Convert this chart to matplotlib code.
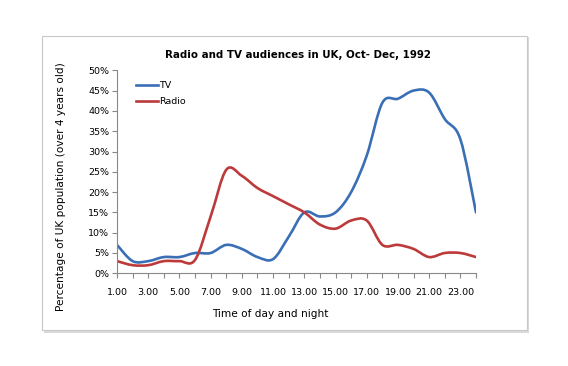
import numpy as np
import matplotlib
matplotlib.use("Agg")
import matplotlib.pyplot as plt
from matplotlib.path import Path
from matplotlib.patches import PathPatch, Rectangle
from matplotlib.lines import Line2D

# hours 1..24 and audience share (%)
hours = list(range(1, 25))
tv = [7, 3, 3, 4, 4, 5, 5, 7, 6, 4, 3.5, 9, 15, 14, 15, 20, 29, 42, 43, 45, 44.5, 38, 33, 15]
radio = [3, 2, 2, 3, 3, 3.3, 14, 25.5, 24, 21, 19, 17, 15, 12, 11, 13, 13, 7, 7, 6, 4, 5, 5, 4]
tick_labels = ["%d.00" % h for h in range(1, 25, 2)]


def smooth_path(xs, ys):
    # excel-like smoothed line: cubic bezier through every point
    pts = np.column_stack([xs, ys]).astype(float)
    verts = [pts[0]]
    codes = [Path.MOVETO]
    n = len(pts)
    for i in range(n - 1):
        p0 = pts[i - 1] if i > 0 else pts[i]
        p1 = pts[i]
        p2 = pts[i + 1]
        p3 = pts[i + 2] if i + 2 < n else pts[i + 1]
        c1 = p1 + (p2 - p0) / 6.0
        c2 = p2 - (p3 - p1) / 6.0
        verts += [c1, c2, p2]
        codes += [Path.CURVE4] * 3
    return Path(verts, codes)


fig = plt.figure(figsize=(5.68, 3.66), dpi=100)

# card border with a little shadow
shadow = Rectangle((44 / 568, 1 - 333 / 366), 485 / 568, 296 / 366, transform=fig.transFigure,
                   facecolor="#d9d9d9", edgecolor="none", zorder=-2)
card = Rectangle((42 / 568, 1 - 330 / 366), 485 / 568, 294 / 366, transform=fig.transFigure,
                 facecolor="white", edgecolor="#c8c8c8", linewidth=0.8, zorder=-1)
fig.patches.extend([shadow, card])

ax = fig.add_axes([117 / 568, 1 - 273.3 / 366, 359 / 568, 203 / 366])
ax.set_facecolor("none")

tv_col = "#3a6fb6"
radio_col = "#bd3a3a"
ax.add_patch(PathPatch(smooth_path(hours, tv), facecolor="none", edgecolor=tv_col, lw=1.9, capstyle="round"))
ax.add_patch(PathPatch(smooth_path(hours, radio), facecolor="none", edgecolor=radio_col, lw=1.9, capstyle="round"))

ax.set_xlim(1, 24)
ax.set_ylim(0, 50)
ax.set_xticks(hours)
ax.set_xticklabels([tick_labels[i // 2] if i % 2 == 0 else "" for i in range(24)], fontsize=6.8)
ax.set_yticks(range(0, 51, 5))
ax.set_yticklabels(["%d%%" % v for v in range(0, 51, 5)], fontsize=6.8)
ax.tick_params(direction="out", length=3.5, color="#888888", width=0.8, pad=2)
ax.tick_params(axis="x", pad=7)
for s in ["top", "right"]:
    ax.spines[s].set_visible(False)
for s in ["left", "bottom"]:
    ax.spines[s].set_color("#888888")
    ax.spines[s].set_linewidth(0.8)

handles = [Line2D([], [], color=tv_col, lw=1.9), Line2D([], [], color=radio_col, lw=1.9)]
ax.legend(handles, ["TV", "Radio"], loc="upper left", bbox_to_anchor=(0.03, 0.99), frameon=False,
          fontsize=6.8, handlelength=2.3, handletextpad=0.1, labelspacing=0.75)

fig.text(298 / 568, 1 - 55 / 366, "Radio and TV audiences in UK, Oct- Dec, 1992", ha="center", va="center",
         fontsize=7.4, fontweight="bold")
fig.text(61 / 568, 1 - 187 / 366, "Percentage of UK population (over 4 years old)", ha="center", va="center",
         rotation=90, fontsize=7.6)
fig.text(270 / 568, 1 - 314 / 366, "Time of day and night", ha="center", va="center", fontsize=7.6)

fig.savefig("out.png", dpi=100)
